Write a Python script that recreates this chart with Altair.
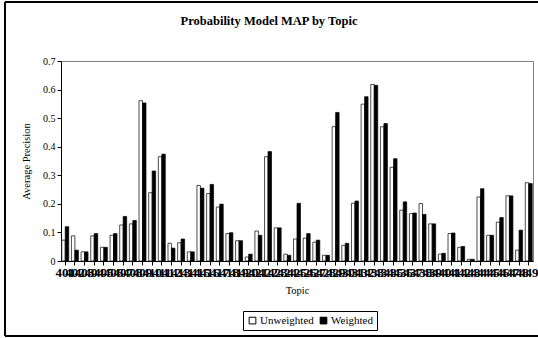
import altair as alt
import pandas as pd

topics = [str(t) for t in range(401, 450)]
unweighted = [0.073, 0.088, 0.032, 0.088, 0.048, 0.090, 0.126, 0.130, 0.561, 0.239, 0.365, 0.062,
              0.064, 0.032, 0.264, 0.236, 0.189, 0.096, 0.071, 0.014, 0.105, 0.365, 0.116, 0.024,
              0.077, 0.080, 0.066, 0.020, 0.470, 0.055, 0.202, 0.549, 0.618, 0.470, 0.328, 0.178,
              0.166, 0.201, 0.130, 0.024, 0.096, 0.048, 0.006, 0.224, 0.090, 0.136, 0.228, 0.038, 0.274]
weighted = [0.120, 0.038, 0.032, 0.096, 0.048, 0.096, 0.156, 0.142, 0.553, 0.315, 0.374, 0.045,
            0.077, 0.032, 0.255, 0.268, 0.199, 0.099, 0.071, 0.024, 0.090, 0.383, 0.116, 0.020,
            0.202, 0.096, 0.073, 0.020, 0.520, 0.062, 0.210, 0.575, 0.615, 0.481, 0.358, 0.207,
            0.168, 0.163, 0.130, 0.027, 0.098, 0.051, 0.006, 0.253, 0.090, 0.152, 0.228, 0.108, 0.271]
series = ["Unweighted", "Weighted"]
y_ticks = [0, 0.1, 0.2, 0.3, 0.4, 0.5, 0.6, 0.7]

rows = []
for t, u, w in zip(topics, unweighted, weighted):
    rows.append({"Topic": t, "Series": series[0], "MAP": u})
    rows.append({"Topic": t, "Series": series[1], "MAP": w})
df = pd.DataFrame(rows)

FONT = "Liberation Serif"

bars = alt.Chart(df).mark_bar(stroke="black", strokeWidth=0.7).encode(
    x=alt.X("Topic:N", sort=topics, title="Topic",
            scale=alt.Scale(paddingInner=0.28, paddingOuter=0.08),
            axis=alt.Axis(labelAngle=0, labelFontSize=13, labelFontWeight=900,
                          labelColor="black", labelPadding=1, labelOverlap=False,
                          labelFont=FONT,
                          tickSize=4, tickColor="black", domainColor="black",
                          titleFont=FONT, titleFontSize=10.5, titleFontWeight="normal",
                          titlePadding=6)),
    xOffset=alt.XOffset("Series:N", sort=series, scale=alt.Scale(paddingInner=0)),
    y=alt.Y("MAP:Q", title="Average Precision",
            scale=alt.Scale(domain=[0, 0.7], nice=False),
            axis=alt.Axis(values=y_ticks, format=".1~f", grid=False, tickSize=4,
                          tickColor="black", domainColor="black", labelFontSize=10,
                          labelFont=FONT, titleFont=FONT,
                          labelColor="black", labelPadding=2,
                          titleFontSize=10.5, titleFontWeight="normal", titlePadding=11)),
    fill=alt.Fill("Series:N", sort=series,
                  scale=alt.Scale(domain=series, range=["white", "black"]),
                  legend=alt.Legend(title=None, orient="none", legendX=182, legendY=250,
                                    direction="horizontal", symbolType="square",
                                    symbolSize=45, symbolStrokeColor="black",
                                    symbolStrokeWidth=1, labelFontSize=11,
                                    labelFont=FONT,
                                    labelColor="black", strokeColor="black",
                                    padding=4, columnPadding=4, labelOffset=2)),
)

border = alt.Chart(df).mark_rect(fillOpacity=0, stroke="black", strokeWidth=1).encode(
    x=alt.value(-56), x2=alt.value(480), y=alt.value(-59), y2=alt.value(275)
)

chart = alt.layer(bars, border).properties(
    width=472, height=200,
    title=alt.Title("Probability Model MAP by Topic", fontSize=12.5, fontWeight="bold",
                    font=FONT, color="black", dx=-28, offset=-26, frame="group"),
    autosize=alt.AutoSizeParams(type="none"),
    padding={"left": 61, "top": 61, "right": 5, "bottom": 77},
    background="white",
).configure(font=FONT).configure_view(stroke="#808080", strokeWidth=1).configure_axis(
    labelFont=FONT, titleFont=FONT, titleColor="black"
).configure_legend(labelFont=FONT)

chart.save("out.html", embed_options={"renderer": "svg", "actions": False})
